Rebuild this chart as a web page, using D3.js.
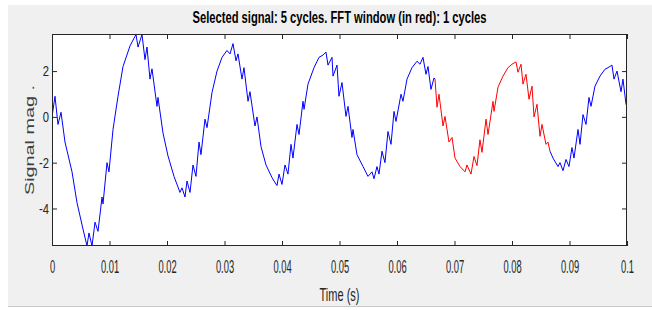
<!DOCTYPE html>
<html>
<head>
<meta charset="utf-8">
<script src="https://cdn.jsdelivr.net/npm/d3@7"></script>
<style>
  body { margin: 0; background: #fff; }
  text { font-family: "Liberation Sans", Arial, sans-serif; fill: #262626; }
</style>
</head>
<body>
<div id="chart"></div>
<script>
// Size of the figure and the axes box
const svgWidth = 652, svgHeight = 310;
const margin = {top: 34, right: 25, bottom: 64, left: 52};
const width = svgWidth - margin.left - margin.right;
const height = svgHeight - margin.top - margin.bottom;

// Signal (time in s, magnitude)
const timeS = [
  0, 0.00052, 0.00104, 0.00157, 0.00226, 0.00348, 0.00435, 0.00539, 0.00609, 0.00643,
  0.00696, 0.00748, 0.0080, 0.0087, 0.00887, 0.00957, 0.00991, 0.01061, 0.01148, 0.01235,
  0.01357, 0.01461, 0.01496, 0.01565, 0.01617, 0.01652, 0.01704, 0.01739, 0.01826, 0.01843,
  0.0193, 0.02017, 0.02122, 0.02226, 0.02261, 0.02313, 0.02348, 0.024, 0.02452, 0.02504,
  0.02557, 0.02591, 0.02661, 0.02696, 0.02783, 0.0287, 0.02957, 0.03043, 0.03096, 0.03148,
  0.032, 0.03235, 0.03304, 0.03339, 0.03409, 0.03443, 0.0353, 0.03565, 0.03635, 0.03722,
  0.03826, 0.03861, 0.03913, 0.03948, 0.04, 0.04052, 0.04104, 0.04157, 0.04191, 0.04261,
  0.04296, 0.04365, 0.04383, 0.04452, 0.04557, 0.04643, 0.04713, 0.04765, 0.048, 0.0487,
  0.04887, 0.04957, 0.04991, 0.05043, 0.05113, 0.05148, 0.05217, 0.05235, 0.05304, 0.05409,
  0.05496, 0.05565, 0.056, 0.05652, 0.05687, 0.05739, 0.05791, 0.05843, 0.05896, 0.05948,
  0.05983, 0.0607, 0.06104, 0.06174, 0.06261, 0.06348, 0.064, 0.06452, 0.06504, 0.06539,
  0.06591, 0.06643, 0.06661, 0.06696, 0.0673, 0.068, 0.06835, 0.06904, 0.06957, 0.07009,
  0.07096, 0.07183, 0.07217, 0.07287, 0.07339, 0.07391, 0.07443, 0.07478, 0.07548, 0.07583,
  0.0767, 0.07687, 0.07757, 0.07843, 0.0793, 0.08, 0.0807, 0.08104, 0.08157, 0.08191,
  0.08243, 0.08296, 0.08348, 0.08383, 0.08435, 0.08487, 0.08522, 0.08591, 0.08626, 0.08661,
  0.08713, 0.088, 0.08835, 0.08887, 0.08939, 0.08991, 0.09043, 0.09078, 0.09148, 0.09183,
  0.09235, 0.09287, 0.09339, 0.09374, 0.09443, 0.0953, 0.09617, 0.0967, 0.09739, 0.09774,
  0.09826, 0.09896, 0.0993, 0.09983, 0.1
];
const signalMag = [
  0.0, 0.9, -0.33, 0.2, -1.1, -2.4, -3.75, -4.9, -5.64, -5.07,
  -5.64, -4.6, -5.0, -3.5, -3.8, -2.0, -2.4, -0.55, 0.9, 2.2,
  3.1, 3.6, 3.05, 3.6, 2.5, 3.05, 1.65, 2.1, 0.46, 0.85,
  -0.7, -1.7, -2.6, -3.3, -3.1, -3.5, -2.8, -3.3, -2.1, -2.6,
  -1.1, -1.65, -0.1, -0.47, 1.07, 2.0, 2.6, 2.9, 2.75, 3.2,
  2.45, 2.75, 1.65, 2.15, 0.68, 1.1, -0.4, 0.0, -1.3, -2.1,
  -2.65, -2.8, -3.0, -2.5, -2.95, -2.1, -2.5, -1.2, -1.8, -0.33,
  -0.77, 0.68, 0.33, 1.43, 2.15, 2.6, 2.7, 2.83, 2.26, 2.6,
  1.78, 2.26, 0.9, 1.5, 0.02, 0.46, -0.9, -0.55, -1.65, -2.17,
  -2.6, -2.4, -2.7, -2.17, -2.5, -1.5, -2.0, -0.64, -1.2, 0.24,
  -0.2, 0.99, 0.68, 1.65, 2.15, 2.43, 2.3, 2.6, 1.86, 2.2,
  1.2, 1.7, 1.65, 0.42, 0.99, -0.4, 0.02, -1.1, -0.9, -1.8,
  -2.17, -2.4, -2.1, -2.5, -1.73, -2.13, -1.0, -1.55, -0.1, -0.77,
  0.68, 0.24, 1.3, 1.78, 2.15, 2.3, 2.4, 1.95, 2.3, 1.43,
  1.86, 0.77, 1.34, 0.0, 0.55, -0.85, -0.33, -1.2, -1.1, -1.5,
  -1.8, -2.17, -2.0, -2.35, -1.86, -2.17, -1.34, -1.8, -0.55, -1.2,
  0.1, -0.33, 0.85, 0.46, 1.34, 1.78, 2.08, 2.15, 2.26, 1.65,
  2.0, 1.1, 1.65, 0.55, 0.5
];

// FFT window (drawn in red)
const fftWindow = [0.06661, 0.08661];

// Ticks
const xTicks = [0, 0.01, 0.02, 0.03, 0.04, 0.05, 0.06, 0.07, 0.08, 0.09, 0.1];
const xTickLabels = ["0", "0.01", "0.02", "0.03", "0.04", "0.05", "0.06", "0.07", "0.08", "0.09", "0.1"];
const yTicks = [-4, -2, 0, 2];
const yTickLabels = ["-4", "-2", "0", "2"];

const titleText = "Selected signal: 5 cycles. FFT window (in red): 1 cycles";
const xLabel = "Time (s)";
const yLabel = "Signal mag .";

const points = timeS.map((t, i) => ({t: t, v: signalMag[i]}));

// Create SVG
const svg = d3.select('#chart').append('svg')
  .attr('width', svgWidth)
  .attr('height', svgHeight);

// Figure background
svg.append('rect')
  .attr('x', 8).attr('y', 5)
  .attr('width', svgWidth - 8).attr('height', 301)
  .attr('fill', '#f0f0f0');
svg.append('line')
  .attr('x1', 8).attr('x2', svgWidth)
  .attr('y1', 306.5).attr('y2', 306.5)
  .attr('stroke', '#c8c8c8');

const plot = svg.append('g')
  .attr('transform', 'translate(' + margin.left + ',' + margin.top + ')');

// Scales
const xScale = d3.scaleLinear().domain([0, 0.1]).range([0, width]);
const yScale = d3.scaleLinear().domain([-5.64, 3.62]).range([height, 0]);

// White axes area
plot.append('rect')
  .attr('width', width).attr('height', height)
  .attr('fill', '#fff');

// Clip so the line stays inside the box
svg.append('defs').append('clipPath').attr('id', 'clip')
  .append('rect').attr('width', width).attr('height', height);

// Line segments: blue, red window, blue
const line = d3.line()
  .x(d => xScale(d.t))
  .y(d => yScale(d.v));

const eps = 1e-6;
const before = points.filter(d => d.t <= fftWindow[0] + eps);
const inside = points.filter(d => d.t >= fftWindow[0] - eps && d.t <= fftWindow[1] + eps);
const after = points.filter(d => d.t >= fftWindow[1] - eps);

const lines = plot.append('g').attr('clip-path', 'url(#clip)');
[[before, '#0000ff'], [inside, '#ff0000'], [after, '#0000ff']].forEach(([seg, col]) => {
  lines.append('path')
    .attr('d', line(seg))
    .attr('fill', 'none')
    .attr('stroke', col)
    .attr('stroke-width', 1);
});

// Axes with inward ticks
const xAxis = d3.axisBottom(xScale)
  .tickValues(xTicks)
  .tickFormat((d, i) => xTickLabels[i])
  .tickSizeInner(-5).tickSizeOuter(0).tickPadding(14);

const gx = plot.append('g')
  .attr('transform', 'translate(0,' + height + ')')
  .call(xAxis);
gx.selectAll('text')
  .attr('transform', 'scale(0.52,1)')
  .style('font-size', '18px');

const gxTop = plot.append('g')
  .call(d3.axisTop(xScale).tickValues(xTicks).tickSizeInner(-5).tickSizeOuter(0).tickFormat(''));

const yAxis = d3.axisLeft(yScale)
  .tickValues(yTicks)
  .tickFormat((d, i) => yTickLabels[i])
  .tickSizeInner(-5).tickSizeOuter(0).tickPadding(4);

const gy = plot.append('g').call(yAxis);
gy.selectAll('text')
  .attr('transform', 'scale(0.75,1)')
  .style('font-size', '15px');

const gyRight = plot.append('g')
  .attr('transform', 'translate(' + width + ',0)')
  .call(d3.axisRight(yScale).tickValues(yTicks).tickSizeInner(-5).tickSizeOuter(0).tickFormat(''));

[gx, gxTop, gy, gyRight].forEach(g => {
  g.select('.domain').remove();
  g.selectAll('line').attr('stroke', '#262626');
  g.selectAll('text').attr('fill', '#262626');
});

// Box
plot.append('rect')
  .attr('x', 0.5).attr('y', 0.5)
  .attr('width', width - 1).attr('height', height - 1)
  .attr('fill', 'none')
  .attr('stroke', '#262626');

// Title
svg.append('text')
  .attr('x', margin.left + width / 2)
  .attr('y', 23)
  .attr('text-anchor', 'middle')
  .attr('textLength', 294)
  .attr('lengthAdjust', 'spacingAndGlyphs')
  .style('font-size', '16px')
  .style('font-weight', 'bold')
  .style('fill', '#000')
  .text(titleText);

// X label
svg.append('text')
  .attr('x', margin.left + width / 2)
  .attr('y', 301)
  .attr('text-anchor', 'middle')
  .attr('textLength', 40)
  .attr('lengthAdjust', 'spacingAndGlyphs')
  .style('font-size', '18px')
  .text(xLabel);

// Y label
svg.append('text')
  .attr('transform', 'translate(34,140) rotate(-90)')
  .attr('text-anchor', 'middle')
  .attr('textLength', 110)
  .attr('lengthAdjust', 'spacingAndGlyphs')
  .style('font-size', '13.5px')
  .style('fill', '#404040')
  .text(yLabel);
</script>
</body>
</html>
